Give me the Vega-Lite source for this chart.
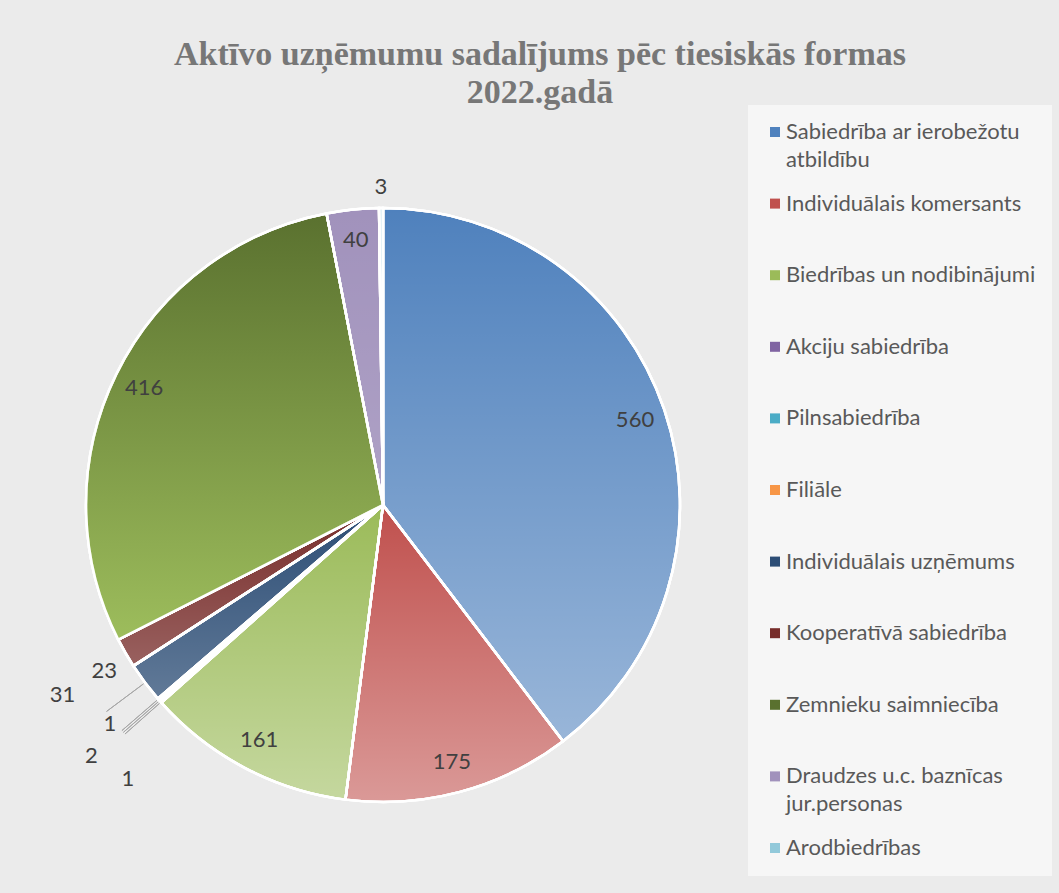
{
  "$schema": "https://vega.github.io/schema/vega-lite/v6.json",
  "width": 594,
  "height": 594,
  "autosize": {"type": "none"},
  "padding": {"left": 86, "top": 208, "right": 379, "bottom": 91},
  "background": "#ebebeb",
  "config": {"view": {"stroke": null}, "style": {"guide-label": {"lineHeight": 28, "dy": 7}}},
  "title": {
    "text": ["Aktīvo uzņēmumu sadalījums pēc tiesiskās formas", "2022.gadā"],
    "font": "Liberation Serif",
    "fontSize": 34,
    "fontWeight": "bold",
    "color": "#777777",
    "lineHeight": 38,
    "anchor": "middle",
    "frame": "group",
    "dx": 157,
    "offset": -5
  },
  "data": {
    "values": [
      {"forma": "Sabiedrība ar ierobežotu atbildību", "skaits": 560, "n": 1},
      {"forma": "Individuālais komersants", "skaits": 175, "n": 2},
      {"forma": "Biedrības un nodibinājumi", "skaits": 161, "n": 3},
      {"forma": "Akciju sabiedrība", "skaits": 1, "n": 4},
      {"forma": "Pilnsabiedrība", "skaits": 2, "n": 5},
      {"forma": "Filiāle", "skaits": 1, "n": 6},
      {"forma": "Individuālais uzņēmums", "skaits": 31, "n": 7},
      {"forma": "Kooperatīvā sabiedrība", "skaits": 23, "n": 8},
      {"forma": "Zemnieku saimniecība", "skaits": 416, "n": 9},
      {"forma": "Draudzes u.c. baznīcas jur.personas", "skaits": 40, "n": 10},
      {"forma": "Arodbiedrības", "skaits": 3, "n": 11}
    ]
  },
  "encoding": {
    "theta": {"field": "skaits", "type": "quantitative", "stack": true},
    "order": {"field": "n", "type": "quantitative"}
  },
  "layer": [
    {
      "mark": {"type": "arc", "outerRadius": 297, "stroke": "white", "strokeWidth": 2.5},
      "encoding": {
        "color": {
          "field": "forma",
          "type": "nominal",
          "sort": null,
          "scale": {
            "domain": [
              "Sabiedrība ar ierobežotu atbildību",
              "Individuālais komersants",
              "Biedrības un nodibinājumi",
              "Akciju sabiedrība",
              "Pilnsabiedrība",
              "Filiāle",
              "Individuālais uzņēmums",
              "Kooperatīvā sabiedrība",
              "Zemnieku saimniecība",
              "Draudzes u.c. baznīcas jur.personas",
              "Arodbiedrības"
            ],
            "range": ["#4f81bd", "#c0504d", "#9bbb59", "#8064a2", "#4bacc6", "#f79646", "#2c4d75", "#772c2a", "#5a712f", "#a192bc", "#92c9da"]
          },
          "legend": {
            "title": null,
            "orient": "none",
            "legendX": 662,
            "legendY": -103,
            "padding": 16,
            "fillColor": "#f6f6f6",
            "symbolType": "square",
            "symbolSize": 100,
            "symbolStrokeWidth": 0,
            "labelFont": "Lato",
            "labelFontSize": 22,
            "labelColor": "#595959",
            "labelOffset": 0,
            "labelLimit": 400,
            "labelBaseline": "alphabetic",
            "rowPadding": 21.6,
            "gridAlign": "all",
            "labelExpr": "datum.label == 'Sabiedrība ar ierobežotu atbildību' ? ['Sabiedrība ar ierobežotu', 'atbildību'] : datum.label == 'Draudzes u.c. baznīcas jur.personas' ? ['Draudzes u.c. baznīcas', 'jur.personas'] : datum.label"
          }
        }
      }
    },
    {
      "mark": {
        "type": "arc",
        "outerRadius": 297,
        "stroke": "white",
        "strokeWidth": 2.5,
        "fill": {"gradient": "linear", "x1": 0, "y1": 0, "x2": 0, "y2": 1, "stops": [{"offset": 0, "color": "rgba(255,255,255,0)"}, {"offset": 1, "color": "rgba(255,255,255,0.42)"}]}
      },
      "encoding": {
        "fillOpacity": {
          "condition": [
            {"test": "datum.forma == 'Zemnieku saimniecība'", "value": 0},
            {"test": "datum.forma == 'Individuālais uzņēmums' || datum.forma == 'Kooperatīvā sabiedrība'", "value": 0.6},
            {"test": "datum.forma == 'Draudzes u.c. baznīcas jur.personas' || datum.forma == 'Arodbiedrības'", "value": 0.35}
          ],
          "value": 1
        }
      }
    },
    {
      "mark": {
        "type": "arc",
        "outerRadius": 297,
        "stroke": "white",
        "strokeWidth": 2.5,
        "fill": {"gradient": "linear", "x1": 0, "y1": 0, "x2": 0, "y2": 1, "stops": [{"offset": 0, "color": "rgba(157,189,92,0)"}, {"offset": 1, "color": "rgba(157,189,92,1)"}]}
      },
      "encoding": {
        "fillOpacity": {
          "condition": {"test": "datum.forma == 'Zemnieku saimniecība'", "value": 1},
          "value": 0
        }
      }
    },
    {
      "mark": {"type": "arc", "innerRadius": 299, "outerRadius": 345, "padAngle": 1.5, "fill": "transparent", "stroke": "#a6a6a6", "strokeWidth": 1},
      "encoding": {
        "strokeOpacity": {
          "condition": {"test": "datum.forma == 'Akciju sabiedrība' || datum.forma == 'Pilnsabiedrība' || datum.forma == 'Filiāle' || datum.forma == 'Individuālais uzņēmums'", "value": 1},
          "value": 0
        }
      }
    },
    {
      "mark": {"type": "text", "radius": 266, "font": "Lato", "fontSize": 22, "color": "#404040"},
      "encoding": {
        "text": {"condition": {"test": "datum.skaits >= 40", "field": "skaits", "type": "quantitative"}, "value": ""}
      }
    },
    {
      "mark": {"type": "text", "radius": 318, "font": "Lato", "fontSize": 22, "color": "#404040"},
      "encoding": {
        "text": {"condition": {"test": "datum.forma == 'Arodbiedrības'", "field": "skaits", "type": "quantitative"}, "value": ""}
      }
    },
    {
      "mark": {"type": "text", "radius": 326, "dx": 4, "dy": 4, "font": "Lato", "fontSize": 22, "color": "#404040"},
      "encoding": {
        "text": {"condition": {"test": "datum.forma == 'Kooperatīvā sabiedrība'", "field": "skaits", "type": "quantitative"}, "value": ""}
      }
    },
    {
      "mark": {"type": "text", "radius": 345, "dx": -44, "dy": -16, "font": "Lato", "fontSize": 22, "color": "#404040"},
      "encoding": {
        "text": {"condition": {"test": "datum.forma == 'Individuālais uzņēmums'", "field": "skaits", "type": "quantitative"}, "value": ""}
      }
    },
    {
      "mark": {"type": "text", "radius": 345, "dx": 3, "dy": 45, "font": "Lato", "fontSize": 22, "color": "#404040"},
      "encoding": {
        "text": {"condition": {"test": "datum.forma == 'Akciju sabiedrība'", "field": "skaits", "type": "quantitative"}, "value": ""}
      }
    },
    {
      "mark": {"type": "text", "radius": 345, "dx": -32, "dy": 24, "font": "Lato", "fontSize": 22, "color": "#404040"},
      "encoding": {
        "text": {"condition": {"test": "datum.forma == 'Pilnsabiedrība'", "field": "skaits", "type": "quantitative"}, "value": ""}
      }
    },
    {
      "mark": {"type": "text", "radius": 345, "dx": -12, "dy": -7, "font": "Lato", "fontSize": 22, "color": "#404040"},
      "encoding": {
        "text": {"condition": {"test": "datum.forma == 'Filiāle'", "field": "skaits", "type": "quantitative"}, "value": ""}
      }
    }
  ]
}
